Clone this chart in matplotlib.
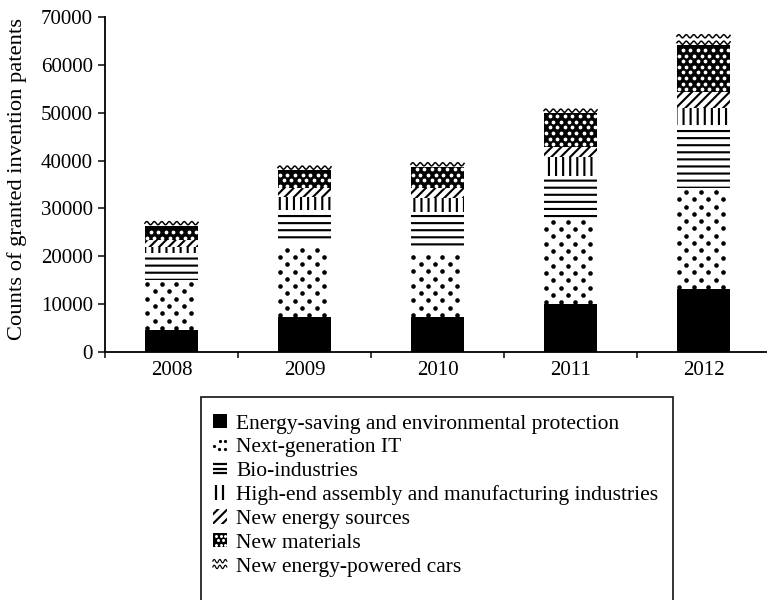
import numpy as np
import matplotlib
matplotlib.use("Agg")
import matplotlib.pyplot as plt
from matplotlib.patches import Rectangle
from matplotlib.legend_handler import HandlerBase

DPI = 85


def px(v):
    # pixel size -> points at the figure dpi
    return v * 72 / DPI


plt.rcParams['font.family'] = ['Liberation Serif', 'DejaVu Serif']
plt.rcParams['hatch.linewidth'] = 1.8

years = ['2008', '2009', '2010', '2011', '2012']
energy_saving = [4600, 7250, 7300, 10000, 13200]
next_gen_it = [10400, 15800, 14000, 17900, 21000]
bio = [5600, 6600, 8000, 8900, 13200]
high_end = [1400, 2800, 2800, 4000, 3500]
new_energy = [1300, 1750, 2100, 2100, 3500]
new_materials = [3100, 3800, 4500, 7000, 9700]
cars = [500, 200, 350, 550, 2200]

labels = ['Energy-saving and environmental protection',
          'Next-generation IT',
          'Bio-industries',
          'High-end assembly and manufacturing industries',
          'New energy sources',
          'New materials',
          'New energy-powered cars']

# facecolor, hatch colour, hatch  (dots / waves are drawn separately)
styles = [('black', 'black', None),
          ('white', 'black', None),
          ('white', 'black', '--'),
          ('white', 'black', '||'),
          ('white', 'black', '///'),
          ('black', 'white', None),
          ('white', 'black', None)]

series = [energy_saving, next_gen_it, bio, high_end, new_energy, new_materials, cars]

fig = plt.figure(figsize=(767 / DPI, 600 / DPI), dpi=DPI)
ax = fig.add_axes([105 / 767, 248 / 600, 665 / 767, 335 / 600])

ax.set_xlim(-0.5, 4.5)
ax.set_ylim(0, 70000)

x = np.arange(len(years))
width = 0.4
bottom = np.zeros(len(years))
containers = []
for vals, (fc, hc, hatch) in zip(series, styles):
    bc = ax.bar(x, vals, width, bottom=bottom, color=fc, edgecolor=hc,
                linewidth=0, hatch=hatch)
    containers.append(bc)
    bottom += np.array(vals)


def bar_pixels(patch):
    (x0, y0), (x1, y1) = ax.transData.transform(
        [(patch.get_x(), patch.get_y()),
         (patch.get_x() + patch.get_width(), patch.get_y() + patch.get_height())])
    return x0, y0, x1, y1


def dot_lattice(patch, dx, dy, diam, color, y_off=2.0):
    """Staggered rows of round dots (pixel spacing) inside a bar patch."""
    x0, y0, x1, y1 = bar_pixels(patch)
    r = diam / 2
    pts = []
    row = 0
    yy = y0 + y_off
    while yy <= y1 - r * 0.6:
        xx = x0 + (dx / 2 if row % 2 else 0) + r
        while xx <= x1 - r * 0.6:
            pts.append((xx, yy))
            xx += dx
        yy += dy
        row += 1
    if not pts:
        return
    data = ax.transData.inverted().transform(pts)
    ax.plot(data[:, 0], data[:, 1], 'o', ms=px(diam), mfc=color, mec='none',
            zorder=3)


def wave_rows(patch, period, amp, step, lw):
    """Horizontal sine lines clipped to a bar patch."""
    x0, y0, x1, y1 = bar_pixels(patch)
    xs = np.linspace(x0, x1, 200)
    yc = y0 + 2.5
    while yc - 2 * amp < y1:
        ys = yc + amp * np.sin(2 * np.pi * (xs - x0) / period)
        data = ax.transData.inverted().transform(np.column_stack([xs, ys]))
        ax.plot(data[:, 0], data[:, 1], color='black', lw=px(lw), zorder=3,
                clip_path=patch)
        yc += step


for p in containers[1]:
    dot_lattice(p, 14.6, 7.3, 4.6, 'black')
for p in containers[5]:
    dot_lattice(p, 7.6, 5.6, 3.8, 'white', y_off=2.5)
for p in containers[6]:
    wave_rows(p, 7.5, 1.6, 6.5, 1.5)

ax.set_yticks(np.arange(0, 70001, 10000))
ax.set_xticks(x)
ax.set_xticklabels(years)
ax.set_xticks(np.arange(-0.5, 4.6, 1.0), minor=True)
ax.tick_params(axis='x', which='major', length=0, labelsize=px(21), pad=px(9))
ax.tick_params(axis='x', which='minor', length=px(6), width=px(1.5), direction='out')
ax.tick_params(axis='y', length=px(7), width=px(1.5), labelsize=px(21), pad=px(5))
for s in ['top', 'right']:
    ax.spines[s].set_visible(False)
for s in ['left', 'bottom']:
    ax.spines[s].set_linewidth(px(1.8))
ax.set_ylabel('Counts of granted invention patents', fontsize=px(22.5))
ax.yaxis.set_label_coords(-0.117, 0.516)


class DotsHandler(HandlerBase):
    def __init__(self, bg, fg, spots, ms):
        super().__init__()
        self.bg, self.fg, self.spots, self.ms = bg, fg, spots, ms

    def create_artists(self, legend, orig_handle, xdescent, ydescent,
                       width, height, fontsize, trans):
        arts = [Rectangle((-xdescent, -ydescent), width, height,
                          facecolor=self.bg, edgecolor='none', transform=trans)]
        xs = [-xdescent + fx * width for fx, fy in self.spots]
        ys = [-ydescent + fy * height for fx, fy in self.spots]
        arts.append(plt.Line2D(xs, ys, ls='none', marker='o', ms=self.ms,
                               mfc=self.fg, mec='none', transform=trans))
        return arts


class StripesHandler(HandlerBase):
    # thick parallel strokes: horizontal bars or vertical bars
    def __init__(self, n, vertical):
        super().__init__()
        self.n, self.vertical = n, vertical

    def create_artists(self, legend, orig_handle, xdescent, ydescent,
                       width, height, fontsize, trans):
        arts = []
        for k in range(self.n):
            f = (k + 0.5) / self.n
            if self.vertical:
                xs = [-xdescent + f * width] * 2
                ys = [-ydescent, -ydescent + height]
            else:
                xs = [-xdescent, -xdescent + width]
                ys = [-ydescent + f * height] * 2
            arts.append(plt.Line2D(xs, ys, color='black', lw=px(2.2),
                                   solid_capstyle='butt', transform=trans))
        return arts


class WavyHandler(HandlerBase):
    def create_artists(self, legend, orig_handle, xdescent, ydescent,
                       width, height, fontsize, trans):
        xs = np.linspace(0, width, 40)
        arts = []
        for frac in (0.3, 0.7):
            ys = height * frac + height * 0.12 * np.sin(2 * np.pi * xs / (width / 2.5))
            arts.append(plt.Line2D(xs - xdescent, ys - ydescent, color='black',
                                   lw=px(1.2), transform=trans))
        return arts


handles = []
for fc, hc, hatch in styles:
    handles.append(Rectangle((0, 0), 1, 1, facecolor=fc, edgecolor=hc,
                             linewidth=0, hatch=hatch))

it_spots = [(0.1, 0.45), (0.45, 0.2), (0.5, 0.75), (0.9, 0.2), (0.9, 0.8)]
mat_spots = [(fx, fy) for fy in (0.2, 0.5, 0.8)
             for fx in ((0.2, 0.55, 0.9) if fy != 0.5 else (0.38, 0.72))]
handler_map = {handles[1]: DotsHandler('white', 'black', it_spots, px(3.2)),
               handles[2]: StripesHandler(3, vertical=False),
               handles[3]: StripesHandler(2, vertical=True),
               handles[5]: DotsHandler('black', 'white', mat_spots, px(3.0)),
               handles[6]: WavyHandler()}

leg = fig.legend(handles, labels, loc='upper left',
                 bbox_to_anchor=(201 / 767, 1 - 402 / 600),
                 fontsize=px(21.5), frameon=False,
                 handlelength=0.65, handleheight=0.65,
                 handletextpad=0.45, labelspacing=0.19, borderpad=0.55,
                 borderaxespad=0, handler_map=handler_map)

# box around the key, running off the bottom edge
fig.add_artist(Rectangle((201 / 767, -0.05), 472 / 767, (600 - 397) / 600 + 0.05,
                         transform=fig.transFigure, facecolor='none',
                         edgecolor='#222222', linewidth=px(1.8)))

fig.savefig('out.png', dpi=DPI)
